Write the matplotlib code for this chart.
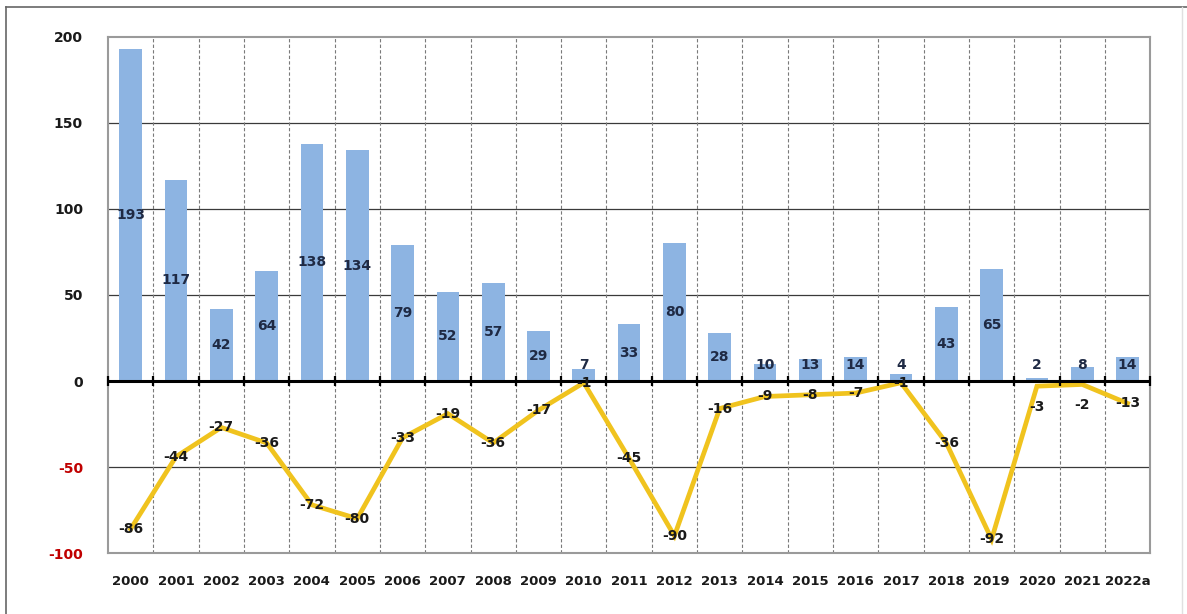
import matplotlib
matplotlib.use("Agg")
import matplotlib.pyplot as plt
import numpy as np

years = ["2000", "2001", "2002", "2003", "2004", "2005", "2006", "2007", "2008", "2009",
         "2010", "2011", "2012", "2013", "2014", "2015", "2016", "2017", "2018", "2019",
         "2020", "2021", "2022a"]
bar_values = [193, 117, 42, 64, 138, 134, 79, 52, 57, 29, 7, 33, 80, 28, 10, 13, 14, 4, 43, 65, 2, 8, 14]
line_values = [-86, -44, -27, -36, -72, -80, -33, -19, -36, -17, -1, -45, -90, -16, -9, -8, -7, -1,
               -36, -92, -3, -2, -13]
y_ticks = [-100, -50, 0, 50, 100, 150, 200]

plt.rcParams['font.family'] = ['DejaVu Sans']
fig = plt.figure(figsize=(11.87, 6.14), dpi=100)
ax = fig.add_axes([0.091, 0.0993, 0.878, 0.8405])

x = np.arange(len(years))
ax.bar(x, bar_values, width=0.5, color="#8DB4E2", zorder=2)
ax.plot(x, line_values, color="#F0C31E", lw=3.4, zorder=3, solid_joinstyle='miter')

ax.set_xlim(-0.5, len(years) - 0.5)
ax.set_ylim(-100, 200)

# grid
for yv in y_ticks:
    if yv in (-100, 200, 0):
        continue
    ax.axhline(yv, color="#3a3a3a", lw=0.9, zorder=1)
bounds = x[:-1] + 0.5
for b in bounds:
    ax.axvline(b, color="#7a7a7a", lw=0.8, ls=(0, (3, 2)), zorder=1)
ax.axhline(0, color="black", lw=2.2, zorder=4)
ax.plot(np.concatenate(([-0.5], bounds, [len(years) - 0.5])), np.zeros(len(bounds) + 2),
        ls='none', marker='|', ms=7, mew=1.6, color='black', zorder=4, clip_on=False)

for s in ax.spines.values():
    s.set_color("#9a9a9a")
    s.set_linewidth(1.5)

ax.set_yticks(y_ticks)
ax.set_yticklabels([str(v) for v in y_ticks])
for lbl, v in zip(ax.get_yticklabels(), y_ticks):
    lbl.set_fontweight('bold')
    lbl.set_fontsize(10)
    lbl.set_color("#C00000" if v < 0 else "#1a1a1a")
ax.tick_params(axis='y', length=0, pad=18)
ax.set_xticks(x)
ax.set_xticklabels(years, fontweight='bold', fontsize=9.5, color="#1a1a1a")
ax.tick_params(axis='x', length=0, pad=16)

# bar labels
for xi, v in zip(x, bar_values):
    ax.text(xi, max(v / 2, 9.5), str(v), ha='center', va='center', fontsize=10,
            fontweight='bold', color="#1F2A44", zorder=5)

# line labels
offsets = {20: -12, 21: -12}
for i, (xi, v) in enumerate(zip(x, line_values)):
    ax.text(xi, v + offsets.get(i, 0), str(v), ha='center', va='center', fontsize=10,
            fontweight='bold', color="#1a1a1a", zorder=5)

# outer frame
fig.add_artist(plt.Line2D([0.005, 1.0], [0.989, 0.989], color="#666666", lw=1.2, transform=fig.transFigure))
fig.add_artist(plt.Line2D([0.005, 0.005], [0.0, 0.989], color="#666666", lw=1.2, transform=fig.transFigure))
fig.add_artist(plt.Line2D([0.996, 0.996], [0.0, 0.989], color="#e0e0e0", lw=1.0, transform=fig.transFigure))

fig.savefig("out.png", dpi=100)
